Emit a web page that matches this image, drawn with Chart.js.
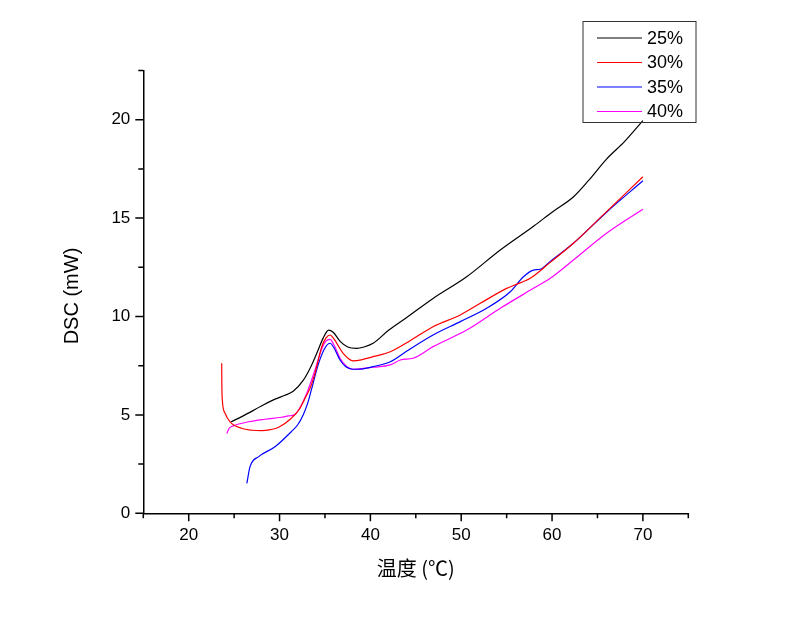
<!DOCTYPE html>
<html>
<head>
<meta charset="utf-8">
<script src="https://cdn.jsdelivr.net/npm/chart.js@4.4.1/dist/chart.umd.min.js"></script>
<style>
  html, body { margin: 0; padding: 0; background: #fff; }
  #wrap { width: 800px; height: 617px; }
</style>
</head>
<body>
<div id="wrap"><canvas id="dsc"></canvas></div>
<script>
// 読み取った値（温度 ℃ / DSC mW）
const temp25 = [24.66, 26.0, 28.0, 29.5, 30.6, 31.5, 32.6, 33.5, 34.1, 34.8, 35.4, 35.9, 36.7, 37.5, 38.5, 39.3, 40.3, 42.0, 44.0, 46.9, 50.6, 54.3, 58.0, 60.0, 62.4, 64.0, 66.0, 68.0, 70.0];
const dsc25  = [4.65, 4.95, 5.45, 5.8, 6.0, 6.2, 6.75, 7.5, 8.13, 8.9, 9.31, 9.2, 8.72, 8.45, 8.38, 8.45, 8.64, 9.3, 9.95, 10.92, 12.02, 13.38, 14.6, 15.3, 16.1, 16.9, 18.0, 18.9, 19.95];

const temp30 = [23.63, 23.65, 23.7, 24.0, 24.55, 25.8, 27.0, 28.0, 29.0, 29.9, 31.3, 32.2, 32.8, 33.4, 33.9, 34.65, 35.1, 35.56, 36.0, 37.0, 38.1, 39.0, 40.3, 42.2, 44.2, 46.9, 49.9, 52.1, 55.0, 55.9, 57.6, 59.8, 62.35, 66.0, 70.0];
const dsc30  = [7.62, 6.5, 5.76, 5.08, 4.65, 4.32, 4.22, 4.2, 4.25, 4.37, 4.83, 5.3, 5.84, 6.4, 7.11, 8.47, 8.9, 9.06, 8.85, 8.13, 7.75, 7.8, 7.96, 8.21, 8.72, 9.48, 10.08, 10.67, 11.43, 11.6, 11.94, 12.75, 13.72, 15.33, 17.1];

const temp35 = [26.4, 26.75, 27.7, 29.5, 31.3, 32.0, 32.6, 33.1, 33.5, 34.3, 35.0, 35.56, 36.0, 36.66, 37.3, 38.1, 39.0, 40.3, 42.2, 44.2, 46.9, 49.9, 52.8, 55.4, 56.85, 57.95, 58.7, 59.8, 62.35, 66.0, 70.0];
const dsc35  = [1.52, 2.37, 2.88, 3.38, 4.15, 4.5, 5.0, 5.6, 6.27, 7.62, 8.4, 8.64, 8.4, 7.79, 7.45, 7.32, 7.33, 7.45, 7.7, 8.3, 9.06, 9.74, 10.42, 11.26, 12.02, 12.36, 12.4, 12.8, 13.72, 15.3, 16.9];

const temp40 = [24.2, 24.45, 24.9, 26.6, 28.4, 30.2, 31.0, 31.6, 32.1, 33.0, 33.9, 34.6, 35.1, 35.56, 36.0, 36.66, 37.3, 38.1, 40.3, 42.2, 43.3, 44.7, 46.9, 50.6, 54.3, 57.95, 59.8, 62.35, 66.0, 70.0];
const dsc40  = [4.06, 4.32, 4.44, 4.65, 4.78, 4.88, 4.95, 5.0, 5.25, 6.1, 7.28, 8.3, 8.75, 8.84, 8.55, 7.88, 7.5, 7.32, 7.42, 7.54, 7.79, 7.88, 8.47, 9.31, 10.42, 11.43, 11.94, 12.87, 14.23, 15.45];

const seriesLabels = ['25%', '30%', '35%', '40%'];
const seriesColors = ['#000000', '#ff0000', '#0000ff', '#ff00ff'];

const xTitle = '温度 (℃)';
const yTitle = 'DSC (mW)';

const pairs = (xs, ys) => xs.map((x, i) => ({ x, y: ys[i] }));

// 主目盛り・補助目盛りを外向きに描く
const tickPlugin = {
  id: 'tickPlugin',
  afterDraw(chart) {
    const { ctx, chartArea } = chart;
    const xs = chart.scales.x, ys = chart.scales.y;
    ctx.save();
    ctx.strokeStyle = '#000';
    ctx.lineWidth = 1.5;
    ctx.beginPath();
    xs.ticks.forEach(t => {
      const px = xs.getPixelForValue(t.value);
      const len = (t.value % 10 === 0) ? 8 : 5;
      ctx.moveTo(px, chartArea.bottom);
      ctx.lineTo(px, chartArea.bottom + len);
    });
    ys.ticks.forEach(t => {
      const py = ys.getPixelForValue(t.value);
      const len = (t.value % 5 === 0) ? 8 : 5;
      ctx.moveTo(chartArea.left, py);
      ctx.lineTo(chartArea.left - len, py);
    });
    ctx.stroke();

    // 軸タイトル
    ctx.fillStyle = '#000';
    ctx.textAlign = 'center';
    ctx.textBaseline = 'middle';
    ctx.font = '20px "Noto Sans CJK SC", sans-serif';
    ctx.fillText(xTitle, (chartArea.left + chartArea.right) / 2, 568);
    ctx.save();
    ctx.translate(72, 296);
    ctx.rotate(-Math.PI / 2);
    ctx.font = '20px "Liberation Sans", Arial, sans-serif';
    ctx.fillText(yTitle, 0, 0);
    ctx.restore();
    ctx.restore();
  }
};

// 凡例（枠付き、右上）
const boxLegend = {
  id: 'boxLegend',
  afterDraw(chart) {
    const { ctx } = chart;
    ctx.save();
    ctx.strokeStyle = '#333';
    ctx.lineWidth = 1;
    ctx.strokeRect(583, 21.5, 113, 101);
    ctx.font = '18px "Liberation Sans", Arial, sans-serif';
    ctx.textAlign = 'left';
    ctx.textBaseline = 'middle';
    chart.data.datasets.forEach((ds, i) => {
      const y = 38 + i * 24.5;
      ctx.strokeStyle = ds.borderColor;
      ctx.beginPath();
      ctx.moveTo(597, y);
      ctx.lineTo(642, y);
      ctx.stroke();
      ctx.fillStyle = '#000';
      ctx.fillText(ds.label, 647, y + 1);
    });
    ctx.restore();
  }
};

const datasets = [
  pairs(temp25, dsc25), pairs(temp30, dsc30), pairs(temp35, dsc35), pairs(temp40, dsc40)
].map((data, i) => ({
  label: seriesLabels[i],
  data,
  borderColor: seriesColors[i],
  backgroundColor: seriesColors[i],
  borderWidth: 1.2,
  pointRadius: 0,
  fill: false,
  cubicInterpolationMode: 'monotone'
}));

new Chart(document.getElementById('dsc'), {
  type: 'line',
  data: { datasets },
  options: {
    responsive: true,
    maintainAspectRatio: false,
    animation: false,
    layout: { padding: { top: 70.5, right: 111.7, bottom: 0, left: 0 } },
    plugins: { legend: { display: false }, tooltip: { enabled: false } },
    scales: {
      x: {
        type: 'linear',
        min: 15, max: 75,
        afterFit(scale) { scale.height = 103.7; },
        ticks: {
          stepSize: 5,
          padding: 12,
          color: '#000',
          font: { family: '"Liberation Sans", Arial, sans-serif', size: 17 },
          callback: v => (v % 10 === 0 ? String(v) : '')
        },
        grid: { drawOnChartArea: false, drawTicks: false },
        border: { display: true, color: '#000', width: 1.5 }
      },
      y: {
        type: 'linear',
        min: 0, max: 22.5,
        afterFit(scale) { scale.width = 143.3; },
        ticks: {
          stepSize: 2.5,
          padding: 13,
          color: '#000',
          font: { family: '"Liberation Sans", Arial, sans-serif', size: 17 },
          callback: v => (v % 5 === 0 ? String(v) : '')
        },
        grid: { drawOnChartArea: false, drawTicks: false },
        border: { display: true, color: '#000', width: 1.5 }
      }
    }
  },
  plugins: [tickPlugin, boxLegend]
});
</script>
</body>
</html>
